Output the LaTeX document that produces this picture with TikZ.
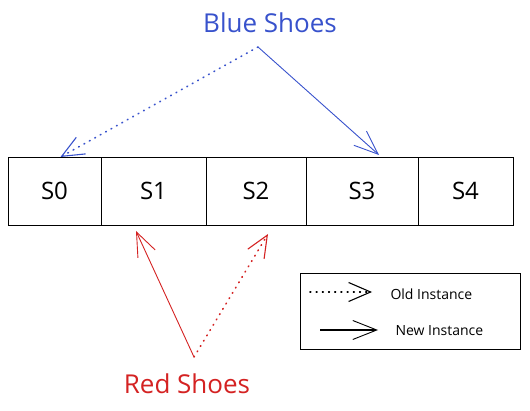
\documentclass[tikz,border=0pt]{standalone}
\usepackage{fontspec}
\setmainfont{Open Sans}
\usetikzlibrary{positioning,arrows.meta}
\definecolor{shoeblue}{RGB}{56,82,204}
\definecolor{shoered}{RGB}{212,34,34}
\tikzset{
  cell/.style={draw, line width=0.8pt, minimum height=68pt, inner sep=0pt, outer sep=0pt,
    font=\fontsize{24}{28}\selectfont},
  shoelabel/.style={font=\fontsize{26}{30}\selectfont},
  legendtext/.style={font=\fontsize{14}{17}\selectfont, anchor=west},
  newinst/.style={line width=0.9pt, -{Straight Barb[length=24pt,width=19pt,line width=0.9pt]}},
  oldinst/.style={line width=1.6pt, line cap=round, dash pattern=on 0.8pt off 5.4pt,
    -{Straight Barb[length=22pt,width=19pt,line width=1.1pt]}},
}
\begin{document}
\begin{tikzpicture}[x=1pt,y=-1pt]
\useasboundingbox (0,0) rectangle (530,411);

% the five slots
\node[cell, minimum width=93pt, anchor=west] (s0) at (8,191) {S0};
\node[cell, minimum width=105pt, right=0pt of s0] (s1) {S1};
\node[cell, minimum width=100pt, right=0pt of s1] (s2) {S2};
\node[cell, minimum width=112pt, right=0pt of s2] (s3) {S3};
\node[cell, minimum width=95pt, right=0pt of s3] (s4) {S4};

% the two instances
\node[shoelabel, text=shoeblue] (blue) at (270,23) {Blue Shoes};
\node[shoelabel, text=shoered] (red) at (187,384) {Red Shoes};
\coordinate (bluefrom) at (258,47);
\coordinate (redfrom) at (194,357);

\draw[oldinst, shoeblue] (bluefrom) -- ([xshift=6pt]s0.north);
\draw[newinst, shoeblue] (bluefrom) -- ([xshift=17pt,yshift=2pt]s3.north);
\draw[newinst, shoered] (redfrom) -- ([xshift=-17.5pt,yshift=-6pt]s1.south);
\draw[oldinst, shoered] (redfrom) -- ([xshift=12pt,yshift=-9pt]s2.south);

% legend
\node[draw, line width=0.8pt, minimum width=220pt, minimum height=76pt] (legend) at (410,311) {};
\node[legendtext] (oldtxt) at (387,294) {Old Instance};
\node[legendtext] (newtxt) at (392,331) {New Instance};
\coordinate (oldfrom) at (310,292);
\coordinate (newfrom) at (320,330);
\draw[oldinst] (oldfrom) -- ([xshift=-15pt,yshift=2pt]oldtxt.west);
\draw[newinst, line width=1.4pt] (newfrom) -- ([xshift=-14pt,yshift=1pt]newtxt.west);
\end{tikzpicture}
\end{document}
